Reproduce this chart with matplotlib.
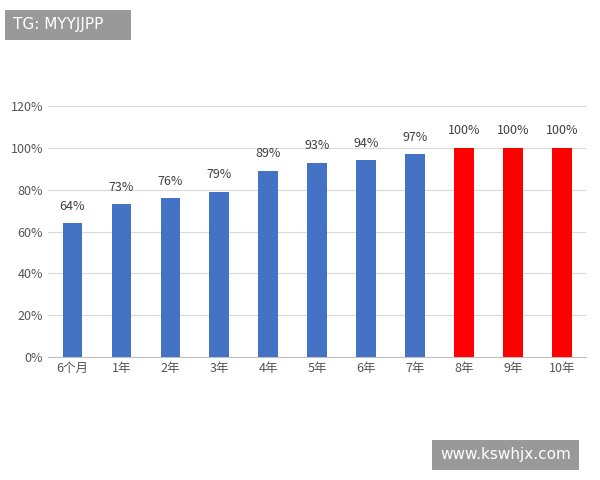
import matplotlib
matplotlib.use("Agg")
import matplotlib.pyplot as plt
from matplotlib.ticker import PercentFormatter

plt.rcParams['font.family'] = ['Noto Sans CJK SC', 'DejaVu Sans']

categories = ["6个月", "1年", "2年", "3年", "4年", "5年", "6年", "7年", "8年", "9年", "10年"]
values = [64, 73, 76, 79, 89, 93, 94, 97, 100, 100, 100]
colors = ["#4472C4"] * 8 + ["#FF0000"] * 3

fig = plt.figure(figsize=(6, 4.8), dpi=100)
ax = fig.add_axes([0.08, 0.256, 0.897, 0.523])
x = range(len(categories))
ax.bar(x, values, width=0.4, color=colors, zorder=3)
for xi, v in zip(x, values):
    ax.text(xi, v + 5, f"{v}%", ha="center", va="bottom", fontsize=9, color="#404040")
ax.set_xlim(-0.5, len(categories) - 0.5)
ax.set_ylim(0, 120)
ax.set_yticks(range(0, 121, 20))
ax.yaxis.set_major_formatter(PercentFormatter(decimals=0))
ax.set_xticks(list(x))
ax.set_xticklabels(categories)
ax.tick_params(axis="both", length=0, labelsize=9, colors="#555555")
ax.grid(axis="y", color="#D9D9D9", linewidth=0.8, zorder=0)
for s in ["top", "right", "left"]:
    ax.spines[s].set_visible(False)
ax.spines["bottom"].set_color("#BFBFBF")

fig.text(13/600, 1 - 25/480, "TG: MYYJJPP    ", color="white", fontsize=11, va="center",
         family="DejaVu Sans",
         bbox=dict(boxstyle="square,pad=0.5", fc="#999999", ec="none"))
fig.text(440/600, 1 - 455/480, "www.kswhjx.com", color="white", fontsize=11, va="center",
         family="DejaVu Sans",
         bbox=dict(boxstyle="square,pad=0.5", fc="#999999", ec="none"))
fig.savefig("out.png", dpi=100)
